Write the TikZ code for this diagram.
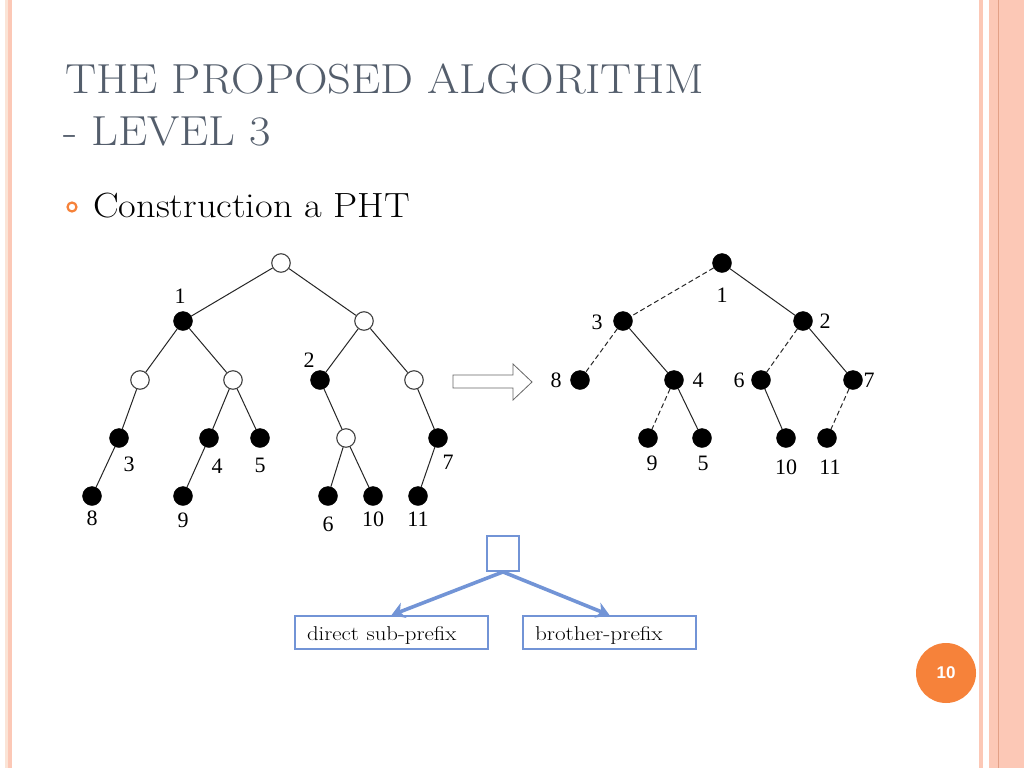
\documentclass[tikz,border=0pt]{standalone}
\usepackage{fontspec}
\newfontfamily\treefont{Liberation Serif}
\newfontfamily\pagefont{Liberation Sans}
\usepackage{xcolor,tikz}
\usetikzlibrary{arrows.meta,positioning}
\definecolor{slidegray}{RGB}{84,94,108}
\definecolor{slideorange}{RGB}{246,130,58}
\definecolor{stripe}{RGB}{252,200,182}
\definecolor{stripepale}{RGB}{251,228,214}
\definecolor{stripedark}{RGB}{226,160,134}
\definecolor{boxblue}{RGB}{114,148,214}
\newcommand{\wide}[2]{\scalebox{#1}[1]{#2}}
\tikzset{>=stealth}
\tikzset{
  blackdot/.style={circle,draw=black,fill=black,inner sep=0pt,minimum size=19pt},
  whitedot/.style={circle,draw=black!75,line width=1.1pt,fill=white,inner sep=0pt,minimum size=18.5pt},
  numlab/.style={inner sep=0pt,font=\treefont\fontsize{22}{22}\selectfont},
  treeline/.style={draw=black!85,line width=1pt},
  ptr/.style={draw=boxblue,line width=3.6pt,-{Stealth[length=13pt,width=16pt,inset=4pt]}},
  lbox/.style={draw=boxblue,line width=1.8pt,inner xsep=12pt,inner ysep=0pt,minimum height=33pt,
    text height=19pt,text depth=3pt,align=left,font=\fontsize{20}{20}\selectfont},
  ttl/.style={anchor=base west,inner sep=0pt,text=slidegray,font=\fontsize{42}{42}\selectfont}
}

\begin{document}
\begin{tikzpicture}[x=1pt,y=-1pt]
\useasboundingbox[fill=white] (0,0) rectangle (1024,768);
% border stripes
\fill[stripepale] (5,0) rectangle (8,768);
\fill[stripe] (8,0) rectangle (12,768);
\fill[stripe] (979,0) rectangle (983,768);
\fill[stripe] (989,0) rectangle (1024,768);
\draw[stripedark,line width=1pt] (998,0)--(998,768);
% title
\node[ttl] (ttla) at (65,93) {\wide{1.108}{THE PROPOSED ALGORITHM}};
\node[ttl] (ttlb) at (63,145) {\wide{1.108}{- LEVEL 3}};
\node[circle,draw=slideorange,line width=2.2pt,inner sep=0pt,minimum size=9pt] (bul) at (72,207) {};
\node[anchor=base west,inner sep=0pt,font=\fontsize{35}{35}\selectfont] (pht) at (93,217) {\wide{1.098}{Construction a PHT}};
% left tree
\foreach \n/\x/\y in {l1/183/321,l2/320/380,l3/119/438,l4/209/438,l5/260/438,l7/438/438,
  l8/92/496,l9/183/496,l6/328/496,l10/373/496,l11/418/496}
  \node[blackdot] (\n) at (\x,\y) {};
\foreach \n/\x/\y in {lr/281/263,lb/364/321,la/140/380,lc/233/380,ld/414/380,le/346/438}
  \node[whitedot] (\n) at (\x,\y) {};
\foreach \a/\b in {lr/l1,lr/lb,l1/la,l1/lc,lb/l2,lb/ld,la/l3,lc/l4,lc/l5,l2/le,ld/l7,
  l3/l8,l4/l9,le/l6,le/l10,l7/l11}
  \draw[treeline] (\a)--(\b);
\foreach \t/\x/\y in {1/180/296,2/309/360,3/129/464,4/217/466,5/260/465,7/448/462,
  8/92/518,9/183/520,6/328/524,10/373/519,11/418/519}
  \node[numlab] (a\t) at (\x,\y) {\t};
% hollow arrow
\draw[black!60,line width=0.8pt,fill=white] (453,375)--(513,375)--(513,364)--(532,382)
  --(513,400)--(513,388)--(453,388)--cycle;
% right tree
\foreach \n/\x/\y in {r1/722/263,r3/623/321,r2/803/321,r8/580/380,r4/674/380,r6/761/380,
  r7/853/380,r9/648/438,r5/702/438,r10/786/438,r11/827/438}
  \node[blackdot] (\n) at (\x,\y) {};
\foreach \a/\b in {r1/r2,r3/r4,r2/r7,r4/r5,r6/r10}
  \draw[treeline] (\a)--(\b);
\foreach \a/\b in {r1/r3,r3/r8,r2/r6,r4/r9,r7/r11}
  \draw[treeline,dash pattern=on 5pt off 3pt] (\a)--(\b);
\foreach \t/\x/\y in {1/722/295,3/597/322,2/825/321,8/556/380,4/698/380,6/739/380,
  7/869/380,9/652/463,5/703/463,10/786/467,11/830/467}
  \node[numlab] (b\t) at (\x,\y) {\t};
% legend
\node[draw=boxblue,line width=1.8pt,minimum width=32pt,minimum height=35pt] (sq) at (503,553.5) {};
\node[lbox,text width=169pt] (dsp) at (391.5,632.5) {\wide{1.14}{direct sub-prefix}};
\node[lbox,text width=149pt] (bp) at (609.5,632.5) {\wide{1.16}{brother-prefix}};
\draw[ptr] (sq.south)--(dsp.north);
\draw[ptr] (sq.south)--(bp.north);
% page number
\node[circle,fill=slideorange,minimum size=60pt,text=white,font=\pagefont\bfseries\fontsize{17}{17}\selectfont] (pg) at (946,673) {10};
\end{tikzpicture}
\end{document}
